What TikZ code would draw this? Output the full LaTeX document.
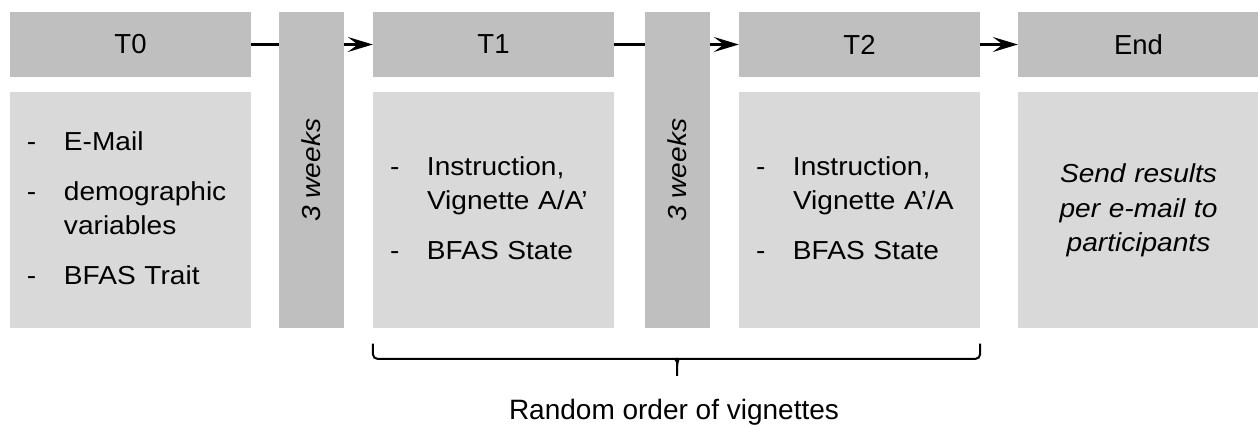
\documentclass[tikz,border=0pt]{standalone}
\usepackage{fontspec}
\setmainfont{Liberation Sans}
\newfontfamily\widesans{Liberation Sans}[FakeStretch=1.08]
\usepackage{tikz}
\usetikzlibrary{positioning}
\usetikzlibrary{arrows.meta}

\definecolor{headgray}{RGB}{191,191,191}
\definecolor{bodygray}{RGB}{217,217,217}

\newcommand{\steplist}[1]{\begin{tabular}{@{}p{37pt}@{}l@{}}#1\end{tabular}}

\begin{document}
\begin{tikzpicture}[
	x=1pt, y=-1pt,
	every node/.style={font=\fontsize{26}{34.5}\selectfont\widesans},
	head/.style={fill=headgray, minimum width=241pt, minimum height=65pt, inner sep=0pt,
		font=\fontsize{27.5}{33}\selectfont},
	body/.style={fill=bodygray, minimum height=236pt, text width=207pt, inner xsep=17pt, inner ysep=0pt, align=left},
	gapbar/.style={fill=headgray, minimum width=65pt, minimum height=316pt, inner sep=0pt},
	link/.style={line width=2.4pt},
	arr/.style={link, -{Stealth[length=25pt,width=15pt,inset=10pt]}},
	brace/.style={line width=2pt, rounded corners=5pt}
]
	\useasboundingbox (0,0) rectangle (1258,427);

	% time points
	\node[head] (t0) at (130.5,44.5) {T0};
	\node[head] (t1) at (493.5,44.5) {T1};
	\node[head] (t2) at (859.5,44.5) {T2};
	\node[head] (tend) at (1138.5,44.5) {End};

	\node[body, below=15pt of t0] (t0body)
		{\steplist{- & E-Mail\\[15pt] - & demographic\\ & variables\\[15pt] - & BFAS Trait}};
	\node[body, below=15pt of t1] (t1body)
		{\steplist{- & Instruction,\\ & Vignette A/A’\\[15pt] - & BFAS State}};
	\node[body, below=15pt of t2] (t2body)
		{\steplist{- & Instruction,\\ & Vignette A’/A\\[15pt] - & BFAS State}};
	\node[body, below=15pt of tend, align=center, font=\fontsize{26}{34.5}\selectfont\widesans\itshape] (tendbody)
		{Send results\\per e-mail to\\participants};

	% pauses between the time points
	\node[gapbar, anchor=north] (gap1) at (311.5,12) {};
	\node[gapbar, anchor=north] (gap2) at (677.5,12) {};
	\node[rotate=90, font=\fontsize{26}{34.5}\selectfont\widesans\itshape] (w1) at (gap1) {3 weeks};
	\node[rotate=90, font=\fontsize{26}{34.5}\selectfont\widesans\itshape] (w2) at (gap2) {3 weeks};

	\draw[link] (t0) -- (t0 -| gap1.west);
	\draw[arr] (gap1.east |- t1) -- (t1);
	\draw[link] (t1) -- (t1 -| gap2.west);
	\draw[arr] (gap2.east |- t2) -- (t2);
	\draw[arr] (t2) -- (tend);

	% brace under T1 and T2
	\coordinate (bl) at ([yshift=-15pt]t1body.south west);
	\coordinate (br) at ([yshift=-15pt]t2body.south east);
	\coordinate (tip) at (677,376);
	\draw[brace] (bl) |- (671,359) to[out=0,in=90] (677,366) -- (tip);
	\draw[brace] (br) |- (683,359) to[out=180,in=90] (677,366);
	\node[anchor=base, font=\fontsize{28}{33}\selectfont] (note) at (674,419) {Random order of vignettes};
\end{tikzpicture}
\end{document}
